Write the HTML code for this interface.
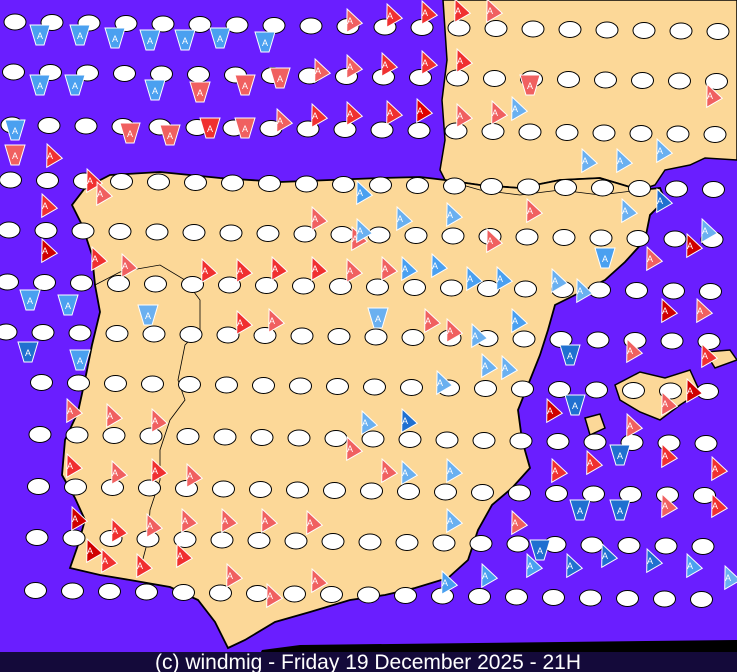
<!DOCTYPE html>
<html><head><meta charset="utf-8"><style>
html,body{margin:0;padding:0;background:#6a1eff;}
svg{display:block}
</style></head><body>
<svg id="s" width="737" height="672" viewBox="0 0 737 672" xmlns="http://www.w3.org/2000/svg">
<rect width="737" height="672" fill="#6a1eff"/>
<path d="M443,0 L737,0 L737,160 L705,158 L690,165 L665,170 L655,185 L640,190 L600,178 L560,180 L520,188 L480,185 L445,180 L440,170 L445,140 L442,100 L447,60 Z" fill="#fcd898" stroke="#000" stroke-width="1.5"/>
<path d="M110,175 L160,172 L220,178 L280,182 L330,180 L380,178 L420,177 L445,180 L480,185 L520,188 L560,180 L600,178 L640,190 L660,188 L665,200 L650,215 L645,240 L625,262 L605,280 L575,295 L555,305 L548,330 L540,355 L528,385 L518,410 L522,440 L530,468 L512,488 L492,505 L478,530 L468,560 L448,578 L415,588 L385,595 L350,600 L310,612 L275,622 L245,640 L228,648 L215,622 L198,600 L170,587 L130,580 L100,575 L70,568 L78,545 L85,520 L75,498 L62,475 L65,440 L78,412 L85,380 L92,345 L100,312 L95,285 L92,255 L82,225 L72,205 L85,188 Z" fill="#fcd898" stroke="#000" stroke-width="1.8"/>
<path d="M95,285 L120,272 L160,265 L185,280 L200,300 L200,330 L185,345 L178,380 L185,400 L170,420 L160,450 L160,480 L150,510 L148,540 L140,570" fill="none" stroke="#000" stroke-width="0.8"/>
<path d="M445,180 L480,190 L520,195 L560,190 L600,195 L640,190" fill="none" stroke="#000" stroke-width="0.8"/>
<path d="M615,385 L640,372 L665,378 L690,370 L700,392 L680,405 L660,420 L640,412 L620,400 Z" fill="#fcd898" stroke="#000" stroke-width="1.5"/>
<path d="M705,352 L730,350 L737,360 L715,368 Z" fill="#fcd898" stroke="#000" stroke-width="1.5"/>
<path d="M585,418 L600,414 L605,428 L590,435 Z" fill="#fcd898" stroke="#000" stroke-width="1.5"/>
<path d="M250,672 L262,650 L300,645 L737,640 L737,672 Z" fill="#000"/>
<g id="e"></g>
<g id="t"></g>
<rect x="0" y="652" width="737" height="20" fill="#140a3a"/>
<text x="368" y="669" text-anchor="middle" fill="#fff" font-family="Liberation Sans, sans-serif" font-size="21">(c) windmig - Friday 19 December 2025 - 21H</text>
</svg>
<script>
var ns="http://www.w3.org/2000/svg";
var ge=document.getElementById('e'),gt=document.getElementById('t');
var rows=[22,72,125,180,230,282,332,382,434,486,537,590];
for(var r=0;r<rows.length;r++){
  for(var c=0;c<21;c++){
    var x=15+c*37-r*1.5, y=rows[r]+(c*0.5);
    if(x<5||x>732) continue;
    var el=document.createElementNS(ns,'ellipse');
    el.setAttribute('cx',x);el.setAttribute('cy',y);el.setAttribute('rx',11);el.setAttribute('ry',8);
    el.setAttribute('fill','#fff');el.setAttribute('stroke','#000');el.setAttribute('stroke-width','1');
    ge.appendChild(el);
  }
}
var tris=[
[40,35,'#4aa0f0',200],[80,35,'#4aa0f0',200],[115,38,'#4aa0f0',200],[150,40,'#4aa0f0',200],[185,40,'#4aa0f0',200],[220,38,'#4aa0f0',200],[265,42,'#4aa0f0',180],
[350,20,'#f06060',20],[390,15,'#f03030',20],[425,12,'#f03030',20],[458,10,'#f03030',20],[490,10,'#f06060',20],
[40,85,'#4aa0f0',200],[75,85,'#4aa0f0',200],[155,90,'#4aa0f0',180],[200,92,'#f06060',150],[245,85,'#f06060',150],[280,78,'#f06060',160],[318,70,'#f06060',20],[350,66,'#f06060',20],[385,64,'#f03030',20],[425,62,'#f03030',20],[460,60,'#f03030',20],[530,85,'#f06060',150],
[15,130,'#4aa0f0',200],[130,133,'#f06060',160],[170,135,'#f06060',160],[210,128,'#f03030',100],[245,128,'#f06060',100],[280,120,'#f06060',60],[315,115,'#f03030',60],[350,113,'#f03030',60],[390,112,'#f03030',60],[420,110,'#e00000',60],[460,115,'#f06060',20],[495,112,'#f06060',40],[515,108,'#6ab0f0',40],[710,95,'#f06060',20],
[15,155,'#f06060',200],[50,155,'#f03030',20],[90,180,'#f03030',20],[100,193,'#f06060',20],[45,205,'#f03030',20],[45,250,'#d00000',20],
[30,300,'#4aa0f0',180],[68,305,'#4aa0f0',180],[28,352,'#2070d0',180],[80,360,'#4aa0f0',180],
[95,258,'#f03030',20],[125,265,'#f06060',20],[205,270,'#f03030',20],[240,270,'#f03030',20],[275,268,'#f03030',20],[315,268,'#f03030',20],[350,270,'#f06060',20],[385,268,'#f06060',20],[405,268,'#4aa0f0',20],[435,265,'#4aa0f0',20],[470,278,'#4aa0f0',20],[500,278,'#4aa0f0',20],
[315,218,'#f06060',20],[355,238,'#f06060',20],[360,192,'#4aa0f0',20],[360,230,'#6ab0f0',20],[400,218,'#6ab0f0',20],[450,214,'#6ab0f0',20],[490,240,'#f06060',20],[530,210,'#f06060',20],[585,160,'#6ab0f0',20],[620,160,'#6ab0f0',20],[660,150,'#6ab0f0',20],[660,200,'#2070d0',20],[625,210,'#6ab0f0',20],[690,245,'#d00000',20],[705,230,'#6ab0f0',20],[605,258,'#4aa0f0',180],[650,258,'#f06060',20],[555,280,'#6ab0f0',20],[580,290,'#6ab0f0',20],
[148,315,'#6ab0f0',180],[240,322,'#f03030',20],[272,320,'#f06060',20],[378,318,'#6ab0f0',180],[428,320,'#f06060',20],[450,330,'#f06060',20],[475,335,'#6ab0f0',20],[515,320,'#4aa0f0',20],
[570,355,'#2070d0',180],[485,365,'#6ab0f0',20],[505,367,'#6ab0f0',20],[440,382,'#6ab0f0',20],[630,350,'#f06060',20],[665,310,'#d00000',20],[700,310,'#f06060',20],[705,355,'#f03030',20],[690,390,'#d00000',20],[665,403,'#f06060',20],[630,425,'#f06060',20],
[70,410,'#f06060',20],[110,415,'#f06060',20],[155,420,'#f06060',20],[365,422,'#6ab0f0',20],[405,420,'#2070d0',20],[350,448,'#f06060',20],[550,410,'#d00000',20],[575,405,'#2070d0',180],
[70,465,'#f03030',20],[115,472,'#f06060',20],[155,470,'#f03030',20],[190,475,'#f06060',20],[385,470,'#f06060',20],[405,472,'#6ab0f0',20],[450,470,'#6ab0f0',20],[555,470,'#f03030',20],[590,462,'#f03030',20],[620,455,'#2070d0',180],[665,455,'#f03030',20],[715,468,'#f03030',20],
[75,518,'#d00000',20],[115,530,'#f03030',20],[150,525,'#f06060',20],[185,520,'#f06060',20],[225,520,'#f06060',20],[265,520,'#f06060',20],[310,522,'#f06060',20],[450,520,'#6ab0f0',20],[515,522,'#f06060',20],[580,510,'#2070d0',180],[620,510,'#2070d0',180],[665,505,'#f06060',20],[715,505,'#f03030',20],
[90,550,'#d00000',20],[105,560,'#f03030',20],[140,565,'#f03030',20],[180,555,'#f03030',20],[230,575,'#f06060',20],[270,595,'#f06060',20],[315,580,'#f06060',20],[445,582,'#4aa0f0',20],[485,575,'#4aa0f0',20],[530,565,'#4aa0f0',20],[540,550,'#2070d0',180],[570,565,'#2070d0',20],[605,555,'#2070d0',20],[650,560,'#2070d0',20],[690,565,'#4aa0f0',20],[728,577,'#6ab0f0',20]
];
tris.forEach(function(t){
  var g=document.createElementNS(ns,'g');
  g.setAttribute('transform','translate('+t[0]+','+t[1]+')');
  var p=document.createElementNS(ns,'path');
  var up=t[3]>90&&t[3]<270;
  p.setAttribute('d',up?'M-10,-10 L10,-10 L4,10 L-4,10 Z':'M-9,9 L9,9 L3,-11 Z');
  p.setAttribute('transform','rotate('+(up?0:(t[3]>180?-20:-30))+')');
  p.setAttribute('fill',t[2]);p.setAttribute('stroke','#fff');p.setAttribute('stroke-width','1');
  g.appendChild(p);
  var tx=document.createElementNS(ns,'text');
  tx.setAttribute('y','4');tx.setAttribute('text-anchor','middle');tx.setAttribute('font-size','9');
  tx.setAttribute('fill','#fff');tx.setAttribute('font-family','Liberation Sans, sans-serif');tx.textContent='A';
  g.appendChild(tx);
  gt.appendChild(g);
});
</script>
</body></html>
